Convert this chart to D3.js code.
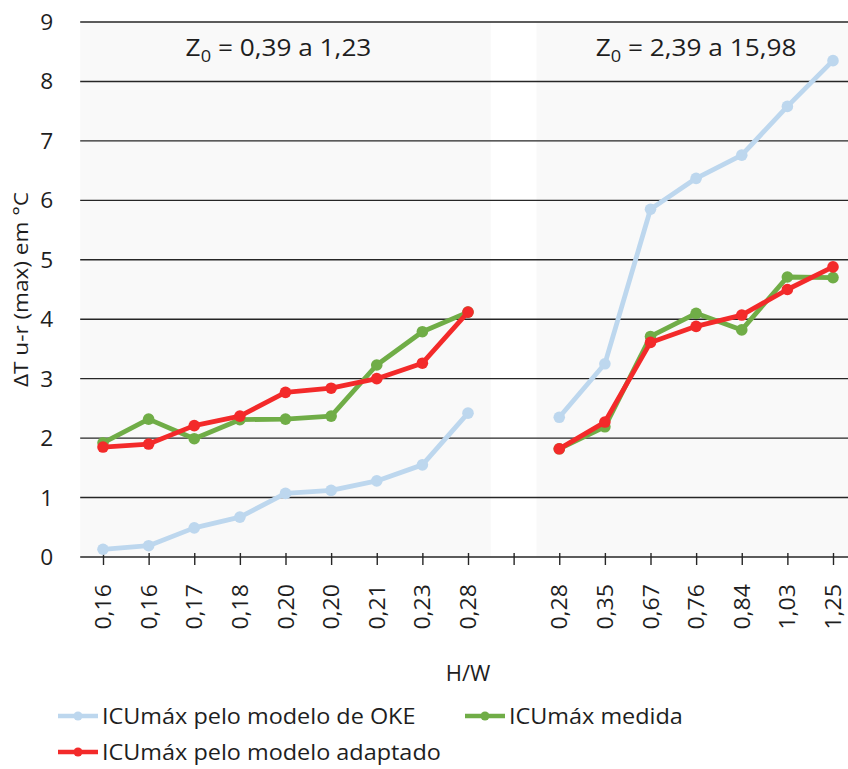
<!DOCTYPE html>
<html>
<head>
<meta charset="utf-8">
<script src="https://cdn.jsdelivr.net/npm/d3@7"></script>
<style>
  html, body { margin: 0; padding: 0; background: #fff; }
  svg { display: block; font-family: "Open Sans", "Noto Sans", sans-serif; }
</style>
</head>
<body>
<svg id="chart" width="848" height="769"></svg>
<script>
// ---- data ----
const categories = ["0,16","0,16","0,17","0,18","0,20","0,20","0,21","0,23","0,28","","0,28","0,35","0,67","0,76","0,84","1,03","1,25"];
const okeValues =     [0.13, 0.19, 0.49, 0.67, 1.07, 1.12, 1.28, 1.55, 2.42, null, 2.35, 3.25, 5.85, 6.37, 6.76, 7.58, 8.35];
const medidaValues =  [1.92, 2.32, 1.99, 2.31, 2.32, 2.37, 3.23, 3.79, 4.12, null, 1.82, 2.19, 3.71, 4.10, 3.82, 4.71, 4.70];
const adaptadoValues =[1.85, 1.90, 2.21, 2.37, 2.77, 2.84, 3.00, 3.26, 4.12, null, 1.82, 2.27, 3.61, 3.88, 4.07, 4.50, 4.88];
const yTicks = [0,1,2,3,4,5,6,7,8,9];
const groupTitles = [
  {main: "Z", sub: "0", rest: " = 0,39 a 1,23", from: 0, to: 8},
  {main: "Z", sub: "0", rest: " = 2,39 a 15,98", from: 10, to: 16}
];
const seriesNames = ["ICUmáx pelo modelo de OKE", "ICUmáx medida", "ICUmáx pelo modelo adaptado"];
const seriesColors = ["#bdd7ee", "#70ad47", "#f32a2a"];
const yTitle = "ΔT u-r (max) em °C";
const xTitle = "H/W";

// ---- layout ----
const svg = d3.select("#chart");
const idx = d3.range(categories.length);
const x = d3.scalePoint().domain(idx).range([103, 833]);
const step = x.step();
const y = d3.scaleLinear().domain([0, 9]).range([557, 22]);
const plotLeft = x(0) - step / 2;
const plotRight = x(idx.length - 1) + step / 2;
const ink = "#1e1e1e";
const SX = 1.08; // horizontal glyph stretch to match the reference font's width

// shaded group backgrounds
svg.append("g").selectAll("rect").data(groupTitles).join("rect")
  .attr("x", d => x(d.from) - step / 2)
  .attr("width", d => x(d.to) - x(d.from) + step)
  .attr("y", y(9))
  .attr("height", y(0) - y(9))
  .attr("fill", "#f9f9f9");

// gridlines
svg.append("g").selectAll("line").data(yTicks.filter(t => t > 0)).join("line")
  .attr("x1", plotLeft).attr("x2", plotRight)
  .attr("y1", d => y(d)).attr("y2", d => y(d))
  .attr("stroke", "#262626").attr("stroke-width", 1.4);

// y axis labels
const yAxis = d3.axisLeft(y).tickValues(yTicks).tickFormat(d3.format("d")).tickSize(0).tickPadding(0);
const yg = svg.append("g").attr("transform", `translate(${plotLeft - 27},0)`).call(yAxis);
yg.select(".domain").remove();
yg.selectAll("text").attr("font-size", 21).attr("fill", ink).attr("font-family", "Open Sans, sans-serif")
  .attr("x", null).attr("dy", null)
  .attr("transform", `translate(0,7.5) scale(${SX},1)`);

// x axis
const xAxis = d3.axisBottom(x).tickFormat(i => categories[i]).tickSize(8).tickPadding(0);
const xg = svg.append("g").attr("transform", `translate(0,${y(0)})`).call(xAxis);
xg.select(".domain").attr("d", `M${plotLeft},0H${plotRight}`).attr("stroke", "#262626").attr("stroke-width", 1.4);
xg.selectAll(".tick line").attr("y1", -4).attr("y2", 8).attr("stroke", "#262626").attr("stroke-width", 1.4);
xg.selectAll(".tick text")
  .attr("font-size", 21).attr("fill", ink).attr("font-family", "Open Sans, sans-serif")
  .attr("text-anchor", "end").attr("dy", "0.36em")
  .attr("transform", `translate(0,27) rotate(-90) scale(1.1,1)`)
  .attr("x", 0).attr("y", 0);

// lines
const allSeries = [okeValues, medidaValues, adaptadoValues];
const line = d3.line().defined(d => d != null).x((d, i) => x(i)).y(d => y(d));
allSeries.forEach((vals, si) => {
  const g = svg.append("g");
  g.append("path").datum(vals).attr("d", line)
    .attr("fill", "none").attr("stroke", seriesColors[si]).attr("stroke-width", 4.8)
    .attr("stroke-linejoin", "round");
  g.selectAll("circle").data(vals.map((v, i) => ({v, i})).filter(d => d.v != null)).join("circle")
    .attr("cx", d => x(d.i)).attr("cy", d => y(d.v)).attr("r", 5.8)
    .attr("fill", seriesColors[si]);
});

// group titles
groupTitles.forEach((t, k) => {
  const cx = (x(t.from) + x(t.to)) / 2 - (k === 0 ? 7 : 0);
  const txt = svg.append("text").attr("transform", `translate(${cx},56) scale(1.14,1)`)
    .attr("text-anchor", "middle").attr("font-size", 23).attr("fill", ink);
  txt.append("tspan").text(t.main);
  txt.append("tspan").text(t.sub).attr("font-size", 16).attr("dy", 6);
  txt.append("tspan").text(t.rest).attr("dy", -6);
});

// axis titles
svg.append("text").attr("transform", `translate(28,${(y(0) + y(9)) / 2}) rotate(-90) scale(1.1,1)`)
  .attr("text-anchor", "middle").attr("font-size", 20.5).attr("fill", ink).text(yTitle);
svg.append("text").attr("x", (plotLeft + plotRight) / 2).attr("y", 681)
  .attr("text-anchor", "middle").attr("font-size", 22).attr("fill", ink).text(xTitle);

// legend
const legendPos = [{x: 58, y: 716}, {x: 465, y: 716}, {x: 58, y: 752}];
seriesNames.forEach((name, i) => {
  const p = legendPos[i];
  const g = svg.append("g").attr("transform", `translate(${p.x},${p.y})`);
  g.append("line").attr("x1", 0).attr("x2", 40).attr("y1", 0).attr("y2", 0)
    .attr("stroke", seriesColors[i]).attr("stroke-width", 4.5);
  g.append("circle").attr("cx", 20).attr("cy", 0).attr("r", 4.5).attr("fill", seriesColors[i]);
  g.append("text").attr("transform", `translate(44,0) scale(1.065,1)`).attr("dy", "0.36em")
    .attr("font-size", 22).attr("fill", ink).text(name);
});
</script>
</body>
</html>
